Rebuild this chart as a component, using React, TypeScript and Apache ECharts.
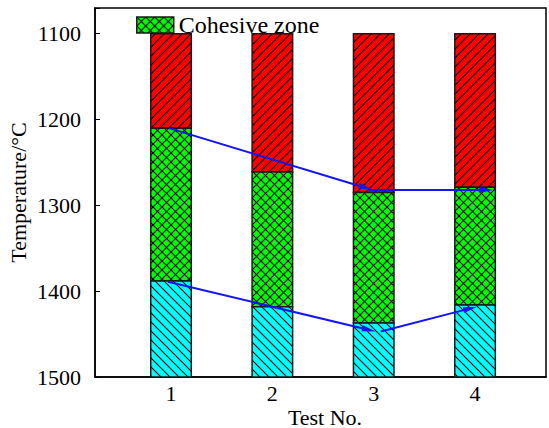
import React, { useEffect, useRef } from 'react';
import * as echarts from 'echarts';

// Test numbers and the zone boundary temperatures (°C) for each test
const tests = [1, 2, 3, 4];
const burdenTop = [1100, 1100, 1100, 1100];
const softeningTemp = [1210, 1261, 1285, 1279];
const drippingTemp = [1388, 1418, 1437, 1416];
const hearthTemp = [1500, 1500, 1500, 1500];

// Trend arrows as [test from, temperature from, test to, temperature to]
const softeningTrend = [
  [0.98, 1210, 2.99, 1282],
  [2.95, 1282, 4.18, 1282],
];
const drippingTrend = [
  [0.97, 1389, 3.02, 1447],
  [3.07, 1447, 4.02, 1418],
];

const FONT = 'Liberation Serif';
const BLUE = '#1414f5';
const EDGE = '#1a1a1a';

function hatch(bg: string, dirs: number[]): HTMLCanvasElement {
  const s = 9;
  const c = document.createElement('canvas');
  c.width = s;
  c.height = s;
  const g = c.getContext('2d')!;
  g.fillStyle = bg;
  g.fillRect(0, 0, s, s);
  g.strokeStyle = '#000';
  g.lineWidth = 1.1;
  for (const d of dirs) {
    for (const off of [-s, 0, s]) {
      g.beginPath();
      if (d > 0) {
        g.moveTo(off - 1, s + 1);
        g.lineTo(off + s + 1, -1);
      } else {
        g.moveTo(off - 1, -1);
        g.lineTo(off + s + 1, s + 1);
      }
      g.stroke();
    }
  }
  return c;
}

export default function App() {
  const ref = useRef<HTMLDivElement>(null);

  useEffect(() => {
    if (!ref.current) return;
    const chart = echarts.init(ref.current, undefined, { renderer: 'svg' });

    const redFill = { image: hatch('#ff0000', [1]), repeat: 'repeat' };
    const greenFill = { image: hatch('#00ff00', [1, -1]), repeat: 'repeat' };
    const cyanFill = { image: hatch('#00ffff', [-1]), repeat: 'repeat' };

    const zone = (name: string, lows: number[], highs: number[], fill: any) => ({
      type: 'custom',
      name,
      data: tests.map((t, i) => [t, lows[i], highs[i]]),
      encode: { x: 0, y: [1, 2] },
      itemStyle: { color: fill, borderColor: EDGE, borderWidth: 1.5 },
      renderItem: (_p: any, api: any) => {
        const a = api.coord([api.value(0), api.value(1)]);
        const b = api.coord([api.value(0), api.value(2)]);
        const w = api.size([0.4, 0])[0];
        return {
          type: 'rect',
          shape: {
            x: a[0] - w / 2,
            y: Math.min(a[1], b[1]),
            width: w,
            height: Math.abs(b[1] - a[1]),
          },
          style: { fill, stroke: EDGE, lineWidth: 1.5 },
        };
      },
    });

    const trend = (name: string, segs: number[][]) => ({
      type: 'custom',
      name,
      data: segs,
      encode: { x: [0, 2], y: [1, 3] },
      z: 5,
      renderItem: (_p: any, api: any) => {
        const p = api.coord([api.value(0), api.value(1)]);
        const q = api.coord([api.value(2), api.value(3)]);
        const dx = q[0] - p[0];
        const dy = q[1] - p[1];
        const len = Math.hypot(dx, dy) || 1;
        const ux = dx / len;
        const uy = dy / len;
        const L = 14;
        const W = 3;
        const bx = q[0] - ux * L;
        const by = q[1] - uy * L;
        return {
          type: 'group',
          children: [
            {
              type: 'line',
              shape: { x1: p[0], y1: p[1], x2: bx + ux * 2, y2: by + uy * 2 },
              style: { stroke: BLUE, lineWidth: 2 },
            },
            {
              type: 'polygon',
              shape: {
                points: [
                  [q[0], q[1]],
                  [bx - uy * W, by + ux * W],
                  [bx + uy * W, by - ux * W],
                ],
              },
              style: { fill: BLUE },
            },
          ],
        };
      },
    });

    const labelText = { fontFamily: FONT, fontSize: 22, fontWeight: 'normal', color: '#000' };

    chart.setOption({
      animation: false,
      backgroundColor: '#fff',
      textStyle: { fontFamily: FONT },
      grid: {
        left: 95,
        right: 3,
        top: 8,
        bottom: 51,
        outerBoundsMode: 'none',
        containLabel: false,
        show: true,
        borderColor: '#000',
        borderWidth: 1.5,
      },
      legend: {
        left: 136,
        top: 13,
        padding: 0,
        itemWidth: 37,
        itemHeight: 16,
        itemGap: 10,
        selectedMode: false,
        data: [
          {
            name: 'Cohesive zone',
            icon: 'rect',
            itemStyle: { color: greenFill, borderColor: EDGE, borderWidth: 1.5 },
          },
        ],
        textStyle: { fontFamily: FONT, fontSize: 24, color: '#000' },
      },
      xAxis: {
        type: 'value',
        min: 0.25,
        max: 4.7,
        name: 'Test No.',
        nameLocation: 'middle',
        nameGap: 29,
        nameMoveOverlap: false,
        nameTextStyle: { ...labelText, lineHeight: 22, padding: [0, 0, 0, 9] },
        axisLine: { lineStyle: { color: '#000', width: 1.5 } },
        axisTick: { show: false },
        splitLine: { show: false },
        axisLabel: {
          ...labelText,
          margin: 5,
          formatter: (v: number) => (Number.isInteger(v) ? String(v) : ''),
        },
      },
      yAxis: {
        type: 'value',
        inverse: true,
        min: 1070,
        max: 1500,
        name: 'Temperature/°C',
        nameLocation: 'middle',
        nameGap: 66,
        nameMoveOverlap: false,
        nameTextStyle: { ...labelText },
        axisLine: { show: true, lineStyle: { color: '#000', width: 1.5 } },
        axisTick: { show: true, inside: true, length: 5, lineStyle: { color: '#000' } },
        splitLine: { show: false },
        axisLabel: {
          ...labelText,
          margin: 14,
          formatter: (v: number) => (v % 100 === 0 ? String(v) : ''),
        },
      },
      series: [
        zone('Lumpy zone', burdenTop, softeningTemp, redFill),
        zone('Cohesive zone', softeningTemp, drippingTemp, greenFill),
        zone('Dripping zone', drippingTemp, hearthTemp, cyanFill),
        trend('Softening trend', softeningTrend),
        trend('Dripping trend', drippingTrend),
      ],
    });

    return () => chart.dispose();
  }, []);

  return (
    <div
      ref={ref}
      style={{ position: 'fixed', left: 0, top: 0, width: 549, height: 428 }}
    />
  );
}
